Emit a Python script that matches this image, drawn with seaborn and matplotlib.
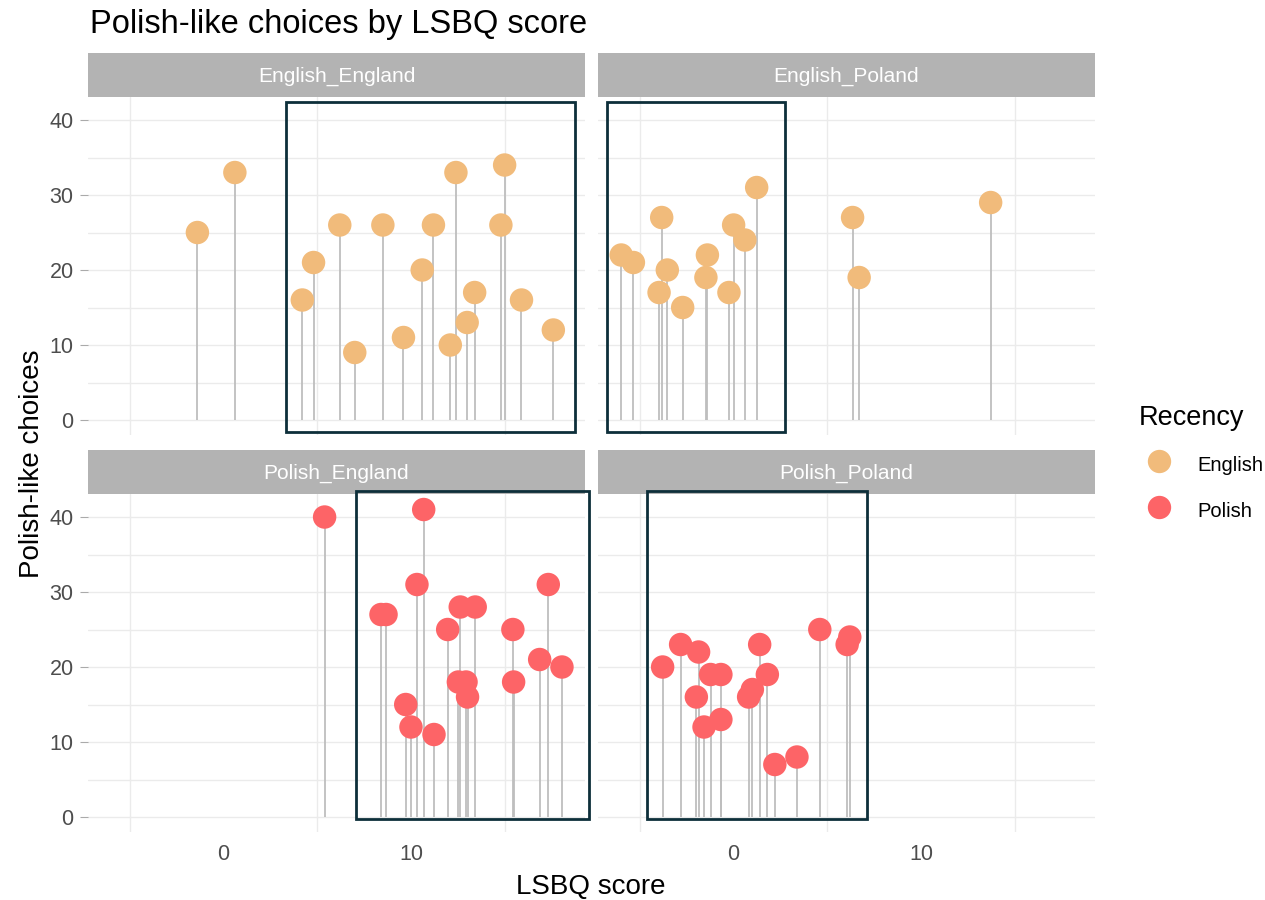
import pandas as pd
import matplotlib.pyplot as plt
import seaborn as sns
from matplotlib.patches import Rectangle
from matplotlib.lines import Line2D

"""
Polish-like choices by LSBQ score, lollipop facets (Recency x Country).
"""

panels = ["English_England", "English_Poland", "Polish_England", "Polish_Poland"]
panel_recency = ["English", "English", "Polish", "Polish"]

ee_lsbq = [-1.4, 0.6, 4.2, 4.8, 6.2, 7.0, 8.5, 9.6, 10.6, 11.2, 12.1, 12.4, 13.0, 13.4, 14.8, 15.0, 15.9, 17.6]
ee_choices = [25, 33, 16, 21, 26, 9, 26, 11, 20, 26, 10, 33, 13, 17, 26, 34, 16, 12]

ep_lsbq = [-6.0, -5.35, -3.98, -3.84, -3.54, -2.72, -1.48, -1.4, -0.25, 0.0, 0.6, 1.23, 6.35, 6.7, 13.72]
ep_choices = [22, 21, 17, 27, 20, 15, 19, 22, 17, 26, 24, 31, 27, 19, 29]

pe_lsbq = [5.39, 8.4, 8.67, 9.72, 10.0, 10.32, 10.68, 11.23, 11.96, 12.53, 12.63, 12.94, 13.02, 13.43,
           15.44, 15.48, 16.87, 17.33, 18.06]
pe_choices = [40, 27, 27, 15, 12, 31, 41, 11, 25, 18, 28, 18, 16, 28, 25, 18, 21, 31, 20]

pp_lsbq = [-3.79, -2.83, -1.87, -1.99, -1.58, -1.23, -0.68, -0.68, 0.8, 1.0, 1.39, 1.8, 2.2, 3.38, 4.6, 6.06, 6.2]
pp_choices = [20, 23, 22, 16, 12, 19, 19, 13, 16, 17, 23, 19, 7, 8, 25, 23, 24]

# highlight boxes per panel (data units)
box_xmin = [3.34, -6.75, 7.08, -4.63]
box_xmax = [18.74, 2.76, 19.49, 7.12]
box_ymin = [-1.56, -1.56, -0.32, -0.32]
box_ymax = [42.37, 42.37, 43.47, 43.47]

COLORS = {"English": "#F1BB7B", "Polish": "#FD6467"}
BOX_COLOR = "#0D2F3A"
STEM_COLOR = "#BEBEBE"
GRID_COLOR = "#EBEBEB"
TICK_COLOR = "#4D4D4D"

W, H = 1265, 900


def build_frame():
    frames = []
    xs = [ee_lsbq, ep_lsbq, pe_lsbq, pp_lsbq]
    ys = [ee_choices, ep_choices, pe_choices, pp_choices]
    for name, rec, x, y in zip(panels, panel_recency, xs, ys):
        frames.append(pd.DataFrame({"group": name, "Recency": rec, "lsbq": x, "choices": y}))
    return pd.concat(frames, ignore_index=True)


def px_rect(left, top, right, bottom):
    return [left / W, 1 - bottom / H, (right - left) / W, (bottom - top) / H]


def main():
    sns.set_theme(style="white")
    plt.rcParams["font.family"] = ["Liberation Sans", "DejaVu Sans"]
    plt.rcParams["text.color"] = "black"

    df = build_frame()
    g = sns.FacetGrid(df, col="group", col_wrap=2, col_order=panels,
                      sharex=True, sharey=True, height=4, aspect=1.3)
    fig = g.figure
    fig.set_size_inches(W / 100, H / 100)

    positions = [
        px_rect(88, 97, 585, 435),
        px_rect(598, 97, 1095, 435),
        px_rect(88, 494, 585, 832),
        px_rect(598, 494, 1095, 832),
    ]

    for i, name in enumerate(panels):
        ax = g.axes_dict[name]
        ax.set_position(positions[i])
        sub = df[df["group"] == name]

        ax.set_xlim(-7.24, 19.29)
        ax.set_ylim(-2.0, 43.07)
        ax.grid(False)
        for s in ax.spines.values():
            s.set_visible(False)

        for yv in range(0, 45, 5):
            ax.axhline(yv, color=GRID_COLOR, lw=1.0, zorder=0)
        for xv in (-5, 5, 15):
            ax.axvline(xv, color=GRID_COLOR, lw=1.0, zorder=0)

        ax.vlines(sub["lsbq"], 0, sub["choices"], color=STEM_COLOR, lw=1.3, zorder=2)
        sns.scatterplot(data=sub, x="lsbq", y="choices", hue="Recency", palette=COLORS,
                        s=285, linewidth=0, alpha=1, legend=False, ax=ax, zorder=3)

        ax.add_patch(Rectangle((box_xmin[i], box_ymin[i]), box_xmax[i] - box_xmin[i],
                               box_ymax[i] - box_ymin[i], fill=False, edgecolor=BOX_COLOR,
                               lw=2.0, zorder=4, clip_on=False))

        # strip
        strip_h = 44 / 338
        ax.add_patch(Rectangle((0, 1), 1, strip_h, transform=ax.transAxes,
                               facecolor="#B3B3B3", edgecolor="none", clip_on=False, zorder=1))
        ax.text(0.5, 1 + strip_h / 2 - 1.5 / 338, name, transform=ax.transAxes,
                ha="center", va="center", color="white", fontsize=15)

        ax.set_title("")
        ax.set_xlabel("")
        ax.set_ylabel("")
        ax.set_yticks([0, 10, 20, 30, 40])
        ax.set_xticks([0, 10])
        left = i % 2 == 0
        bottom = i >= 2
        ax.tick_params(axis="y", length=5.8 if left else 0, width=0.8, color="#AAAAAA",
                       pad=4.5, labelsize=15.5, labelcolor=TICK_COLOR, left=left, labelleft=left)
        ax.tick_params(axis="x", length=0, pad=8.5, labelsize=15.5, labelcolor=TICK_COLOR,
                       labelbottom=bottom)

    fig.text(90 / W, 1 - 33 / H, "Polish-like choices by LSBQ score", fontsize=23.5,
             ha="left", va="baseline", color="black")
    fig.text(591 / W, 1 - 887 / H, "LSBQ score", fontsize=20, ha="center", va="center")
    fig.text(32 / W, 1 - 464 / H, "Polish-like choices", fontsize=20, ha="center",
             va="center", rotation=90)

    handles = [Line2D([], [], marker="o", ls="", markersize=16.8, markeredgewidth=0,
                      color=COLORS[k]) for k in ("English", "Polish")]
    leg = fig.legend(handles, ["English", "Polish"], title="Recency", loc="upper left",
                     bbox_to_anchor=(1139 / W, 1 - 405 / H), frameon=False, borderpad=0,
                     borderaxespad=0, fontsize=14.5, title_fontsize=19.5, alignment="left",
                     handlelength=2.0, handleheight=1.6, handletextpad=0.9, labelspacing=1.0)
    for t in leg.get_texts():
        t.set_color("black")
    leg.get_title().set_color("black")

    fig.savefig("out.png", dpi=100)


if __name__ == "__main__":
    main()
